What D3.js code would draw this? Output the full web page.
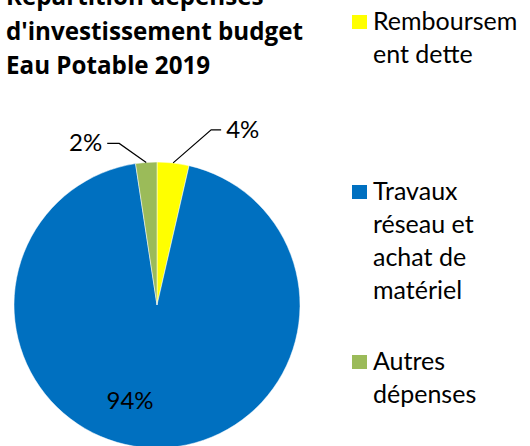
<!DOCTYPE html>
<html><head><meta charset="utf-8">
<script src="https://cdn.jsdelivr.net/npm/d3@7"></script>
<style>body{margin:0;background:#fff;overflow:hidden}</style>
</head><body>
<svg id="c" width="530" height="446"></svg>
<script>
const categories = ["Remboursement dette", "Travaux réseau et achat de matériel", "Autres dépenses"];
const values = [3.6, 94.0, 2.4];
const colors = ["#FFFF00", "#0070C0", "#9BBB59"];
const legendLines = [["Remboursem", "ent dette"], ["Travaux", "réseau et", "achat de", "matériel"], ["Autres", "dépenses"]];
const titleLines = ["Répartition dépenses", "d'investissement budget", "Eau Potable 2019"];

const font = "Lato, 'Open Sans', sans-serif";
const titleFont = "'Open Sans', Lato, sans-serif";
const svg = d3.select("#c");
const cx = 157, cy = 305, R = 143;

// title
svg.append("g").selectAll("text").data(titleLines).join("text")
  .attr("x", 6).attr("y", (d, i) => 5 + i * 34.5)
  .attr("font-family", titleFont).attr("font-weight", 700).attr("font-size", 24.2)
  .attr("fill", "#000").text(d => d);

const pie = d3.pie().sort(null).value(d => d);
const arcs = pie(values);
const arc = d3.arc().innerRadius(0).outerRadius(R);
const g = svg.append("g").attr("transform", `translate(${cx},${cy})`);
g.selectAll("path").data(arcs).join("path")
  .attr("d", arc).attr("fill", (d, i) => colors[i])
  .attr("stroke", "#fff").attr("stroke-width", 0.5);

const fmt = v => Math.round(v) + "%";
const onArc = d => {
  const a = (d.startAngle + d.endAngle) / 2;
  return [R * Math.sin(a), -R * Math.cos(a)];
};
const leaders = [
  {i: 0, dx: 38, dy: -33, h: 10, anchor: "start"},
  {i: 2, dx: -27, dy: -19, h: -12, anchor: "end"}
];
leaders.forEach(l => {
  const d = arcs[l.i];
  const p = onArc(d);
  const e = [p[0] + l.dx, p[1] + l.dy];
  const f = [e[0] + l.h, e[1]];
  g.append("polyline").attr("points", [p, e, f].map(q => q.join(",")).join(" "))
    .attr("fill", "none").attr("stroke", "#000").attr("stroke-width", 1.2);
  g.append("text").attr("x", f[0] + (l.h > 0 ? 5 : -5)).attr("y", f[1] + 8)
    .attr("text-anchor", l.anchor).attr("font-family", font).attr("font-size", 24)
    .attr("fill", "#000").text(fmt(values[l.i]));
});
g.append("text").attr("x", -27).attr("y", 104).attr("text-anchor", "middle")
  .attr("font-family", font).attr("font-size", 24).attr("fill", "#000").text(fmt(values[1]));

// legend
const legendY = [30, 200, 370];
const lg = svg.append("g");
categories.forEach((c, i) => {
  lg.append("rect").attr("x", 352).attr("y", legendY[i] - 15).attr("width", 15).attr("height", 14)
    .attr("fill", colors[i]);
  lg.append("text").attr("x", 373).attr("y", legendY[i]).attr("font-family", font)
    .attr("font-size", 25).attr("fill", "#000")
    .selectAll("tspan").data(legendLines[i]).join("tspan")
    .attr("x", 373).attr("dy", (d, j) => j === 0 ? 0 : 33).text(d => d);
});
</script>
</body></html>
